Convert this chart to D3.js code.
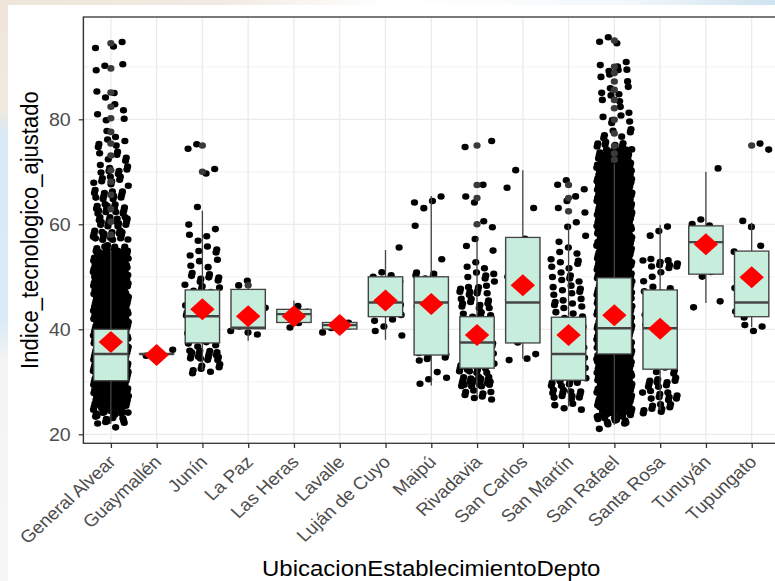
<!DOCTYPE html>
<html><head><meta charset="utf-8">
<script src="https://cdn.jsdelivr.net/npm/d3@7/dist/d3.min.js"></script>
<style>html,body{margin:0;padding:0;background:#fff;overflow:hidden}</style>
</head><body><div id="chart"></div>
<script>
// ---------------- data ----------------
const departments = ["General Alvear","Guaymallén","Junín","La Paz","Las Heras","Lavalle","Luján de Cuyo","Maipú","Rivadavia","San Carlos","San Martín","San Rafael","Santa Rosa","Tunuyán","Tupungato"];
const whiskerLow   = [22.0, 35.3, 32.2, 37.8, 40.8, 39.5, 38.0, 29.3, 27.2, 34.4, 25.3, 21.8, 24.6, 45.0, 40.4];
const q1Values     = [30.2, 35.3, 37.4, 40.1, 41.3, 40.05, 42.4, 35.1, 32.6, 37.4, 30.3, 35.3, 32.4, 50.5, 42.4];
const medianValues = [35.3, 35.3, 42.5, 40.3, 42.9, 40.8, 45.1, 45.1, 37.5, 45.1, 35.3, 40.2, 40.2, 56.6, 45.1];
const q3Values     = [40.0, 35.3, 47.5, 47.6, 43.8, 41.3, 50.0, 50.0, 42.4, 57.5, 42.3, 49.8, 47.5, 59.7, 54.9];
const whiskerHigh  = [55.1, 35.3, 62.6, 48.2, 45.5, 41.3, 55.1, 65.4, 57.5, 70.3, 59.9, 71.5, 59.9, 70.0, 60.3];
const meanValues   = [37.6, 35.1, 43.8, 42.5, 42.5, 40.8, 45.5, 44.8, 38.9, 48.4, 38.9, 42.7, 40.1, 56.2, 49.9];
const yTicks = [20, 40, 60, 80];
const yMinorTicks = [30, 50, 70, 90];

// observations: [value, number of observations at that value]
const obsGeneralAlvear = [[94.5,3],[89.7,3],[85.1,3],[82.4,2],[80.2,3],[77.6,2],[75.4,5],[73.1,6],[70.3,8],[68.1,9],[65.6,12],[62.9,14],[60.5,16],[58.0,18],
  [55,18],[54,20],[53,20],[52,20],[51,20],[50,20],[49,20],[48,20],[47,20],[46,20],[45,20],[44,20],[43,20],[42,20],[41,20],[40,20],
  [39,20],[38,20],[37,20],[36,20],[35,20],[34,20],[33,20],[32,20],[31,20],[30,20],[29,20],[28,20],[27,20],[26,18],[25,15],[24,10],[23,6],[22,3]];
const obsGuaymallen = [[35.3,2]];
const obsJunin = [[75,2],[70,2],[62.5,1],[60,2],[57.5,3],[55,5],[52.5,4],[50,8],[47.5,8],[45,6],[42.5,6],[40,6],[37.5,8],[35,16],[32.5,7]];
const obsLaPaz = [[48.4,2],[45,1],[42.5,1],[40,3],[38.2,1]];
const obsLasHeras = [[45,1],[42.5,3],[41.25,2]];
const obsLavalle = [[41.25,2],[40,3]];
const obsLujanDeCuyo = [[55,1],[50,5],[47.5,2],[45,3],[42.5,3],[40,2],[38,1]];
const obsMaipu = [[65,3],[62.5,1],[60,1],[52.5,1],[50,7],[47.5,2],[45,2],[42.5,2],[40,2],[37.5,2],[35,7],[32.5,1],[30,3]];
const obsRivadavia = [[75,2],[67.5,1],[65,2],[60,2],[57.5,1],[55,2],[52.5,3],[50,6],[47.5,10],[45,10],[42.5,8],[40,6],[37.5,6],[35,6],[32.5,14],[30,20],[27.5,8]];
const obsSanCarlos = [[70,1],[67.5,1],[62.5,1],[57.5,1],[55,1],[50,2],[47.5,1],[45,2],[42.5,1],[40,1],[37.5,1],[35,3]];
const obsSanMartin = [[67.5,3],[65,2],[62.5,2],[59.5,2],[57.5,2],[55,3],[52.5,6],[50,6],[47.5,7],[45,7],[42.5,5],[40,4],[37.5,4],[35,4],[32.5,6],[30,12],[27.5,12],[25.5,4]];
const obsSanRafael = [[95,3],[90,5],[88.8,2],[87.2,2],[85.6,4],[83.7,3],[82.1,2],[79.9,5],[77.3,6],[74.9,12],[73.5,14],[72.3,18],
  [71,20],[70,22],[69,22],[68,22],[67,22],[66,22],[65,22],[64,22],[63,22],[62,22],[61,22],[60,22],[59,22],[58,22],[57,22],[56,22],
  [55,22],[54,22],[53,22],[52,22],[51,22],[50,22],[49,22],[48,22],[47,22],[46,22],[45,22],[44,22],[43,22],[42,22],[41,22],[40,22],
  [39,22],[38,22],[37,22],[36,22],[35,22],[34,22],[33,22],[32,22],[31,22],[30,22],[29,22],[28,22],[27,22],[26,22],[25,18],[24,14],[23,8],[22,4]];
const obsSantaRosa = [[59.5,2],[57.5,1],[52.5,10],[50,3],[47.5,4],[45,3],[42.5,3],[40,3],[37.5,3],[35,4],[32.5,6],[30,10],[27.5,10],[25,9]];
const obsTunuyan = [[70,1],[60,3],[57.5,2],[55,2],[52.5,1],[50,2],[45,2]];
const obsTupungato = [[75,2],[60,2],[55,2],[52.5,1],[50,1],[47.5,1],[45,1],[42.5,3],[40.5,3]];
const observations = [obsGeneralAlvear, obsGuaymallen, obsJunin, obsLaPaz, obsLasHeras, obsLavalle, obsLujanDeCuyo, obsMaipu,
  obsRivadavia, obsSanCarlos, obsSanMartin, obsSanRafael, obsSantaRosa, obsTunuyan, obsTupungato];

// ---------------- layout ----------------
const W = 775, H = 581, SX = 1.09, VW = W / SX;
const panel = {left: 76.5, right: 714.8, top: 17, bottom: 443.3};
const font = "'Liberation Sans', Arial, sans-serif";
const R = 3.3;

const svg = d3.select("#chart").append("svg")
  .attr("width", W).attr("height", H)
  .attr("viewBox", `0 0 ${VW} ${H}`).attr("preserveAspectRatio", "none")
  .style("display", "block");

const defs = svg.append("defs");
const gTop = defs.append("linearGradient").attr("id", "gTop").attr("x1", 0).attr("x2", 1).attr("y1", 0).attr("y2", 0);
[["0", "#efe5da"], ["0.3", "#f2ebe3"], ["0.5", "#ffffff"], ["0.8", "#f4f8fb"], ["1", "#cfe3f0"]]
  .forEach(([o, c]) => gTop.append("stop").attr("offset", o).attr("stop-color", c));
const gLeft = defs.append("linearGradient").attr("id", "gLeft").attr("x1", 0).attr("x2", 0).attr("y1", 0).attr("y2", 1);
[["0", "#efe5da"], ["0.19", "#f1e9e0"], ["0.23", "#d7eaf6"], ["0.55", "#d9ebf6"], ["0.62", "#f3f3f3"], ["1", "#f7f7f7"]]
  .forEach(([o, c]) => gLeft.append("stop").attr("offset", o).attr("stop-color", c));

svg.append("rect").attr("width", VW).attr("height", H).attr("fill", "#fff");
svg.append("rect").attr("x", 0).attr("y", 0).attr("width", VW).attr("height", 5).attr("fill", "url(#gTop)");
svg.append("rect").attr("x", 0).attr("y", 0).attr("width", 8 / SX).attr("height", H).attr("fill", "url(#gLeft)");

const x = d3.scalePoint().domain(departments).range([panel.left, panel.right]).padding(0.6);
const y = d3.scaleLinear().domain([18.286, 99.486]).range([panel.bottom, panel.top]);
const step = x.step();

// grid
const grid = svg.append("g");
yMinorTicks.forEach(t => grid.append("line").attr("x1", panel.left).attr("x2", panel.right)
  .attr("y1", y(t)).attr("y2", y(t)).attr("stroke", "#ebebeb").attr("stroke-width", 0.7));
yTicks.forEach(t => grid.append("line").attr("x1", panel.left).attr("x2", panel.right)
  .attr("y1", y(t)).attr("y2", y(t)).attr("stroke", "#ebebeb").attr("stroke-width", 1.3));
departments.forEach(d => grid.append("line").attr("x1", x(d)).attr("x2", x(d))
  .attr("y1", panel.top).attr("y2", panel.bottom).attr("stroke", "#ebebeb").attr("stroke-width", 1.2));

// jittered points (ggplot geom_jitter: width 0.4, height 0.4*resolution)
const A1 = 0.7548776662466927, A2 = 0.5698402909980532;
const pts = [];
departments.forEach((dep, di) => {
  let k = 0;
  observations[di].forEach(([v, n]) => {
    for (let j = 0; j < n; j++) {
      const u = (0.31 + (k + 1) * A1 + di * 0.137) % 1;
      const w = (0.47 + (k + 1) * A2 + di * 0.291) % 1;
      pts.push({cx: x(dep) + (u - 0.5) * 0.77 * step, cy: y(v + (w - 0.5) * 2.0)});
      k++;
    }
  });
});
svg.append("g").selectAll("circle").data(pts).join("circle")
  .attr("cx", d => d.cx).attr("cy", d => d.cy).attr("r", R).attr("fill", "#000");

// boxplots
const boxW = 0.75 * step;
const bp = svg.append("g");
departments.forEach((dep, i) => {
  const cx = x(dep);
  const outl = observations[i].map(o => o[0]).filter(v => v > whiskerHigh[i] || v < whiskerLow[i]);
  bp.append("g").selectAll("circle").data(outl).join("circle")
    .attr("cx", cx).attr("cy", v => y(v)).attr("r", R).attr("fill", "#3a3a3a");
  bp.append("line").attr("x1", cx).attr("x2", cx).attr("y1", y(q3Values[i])).attr("y2", y(whiskerHigh[i]))
    .attr("stroke", "#444").attr("stroke-width", 1.2);
  bp.append("line").attr("x1", cx).attr("x2", cx).attr("y1", y(q1Values[i])).attr("y2", y(whiskerLow[i]))
    .attr("stroke", "#444").attr("stroke-width", 1.2);
  bp.append("rect").attr("x", cx - boxW / 2).attr("width", boxW)
    .attr("y", y(q3Values[i])).attr("height", Math.max(0.01, y(q1Values[i]) - y(q3Values[i])))
    .attr("fill", "#c7eedd").attr("stroke", "#444").attr("stroke-width", 1.3);
  bp.append("line").attr("x1", cx - boxW / 2).attr("x2", cx + boxW / 2)
    .attr("y1", y(medianValues[i])).attr("y2", y(medianValues[i]))
    .attr("stroke", "#444").attr("stroke-width", 2.4);
});

// means
svg.append("g").selectAll("path").data(departments).join("path")
  .attr("d", (d, i) => {
    const cx = x(d), cy = y(meanValues[i]), hw = 11.2, hh = 11;
    return `M${cx},${cy - hh}L${cx + hw},${cy}L${cx},${cy + hh}L${cx - hw},${cy}Z`;
  }).attr("fill", "#ff0000");

// panel border
svg.append("rect").attr("x", panel.left).attr("y", panel.top)
  .attr("width", panel.right - panel.left).attr("height", panel.bottom - panel.top)
  .attr("fill", "none").attr("stroke", "#333").attr("stroke-width", 1.3);

// axes
const yAxis = d3.axisLeft(y).tickValues(yTicks).tickSize(4.3).tickPadding(8 / SX);
const ga = svg.append("g").attr("transform", `translate(${panel.left},0)`).call(yAxis);
ga.select(".domain").remove();
ga.selectAll(".tick line").attr("stroke", "#333").attr("stroke-width", 1.2);
ga.selectAll(".tick text").attr("fill", "#4d4d4d").style("font-family", font).style("font-size", "18px");

const xAxis = d3.axisBottom(x).tickSize(4.7).tickFormat(() => "");
const gx = svg.append("g").attr("transform", `translate(0,${panel.bottom})`).call(xAxis);
gx.select(".domain").remove();
gx.selectAll(".tick line").attr("stroke", "#333").attr("stroke-width", 1.2);

svg.append("g").selectAll("text").data(departments).join("text")
  .attr("transform", d => `translate(${x(d) + 6 / SX},463) rotate(-45)`)
  .attr("text-anchor", "end")
  .attr("fill", "#4d4d4d").style("font-family", font).style("font-size", "17.5px")
  .text(d => d);

svg.append("text").attr("x", (panel.left + panel.right) / 2).attr("y", 576)
  .attr("text-anchor", "middle").attr("fill", "#000")
  .style("font-family", font).style("font-size", "22px")
  .text("UbicacionEstablecimientoDepto");

svg.append("text").attr("transform", `translate(${38 / SX},${(panel.top + panel.bottom) / 2}) rotate(-90)`)
  .attr("text-anchor", "middle").attr("fill", "#000")
  .style("font-family", font).style("font-size", "22px")
  .text("Indice_tecnologico_ajustado");
</script></body></html>
